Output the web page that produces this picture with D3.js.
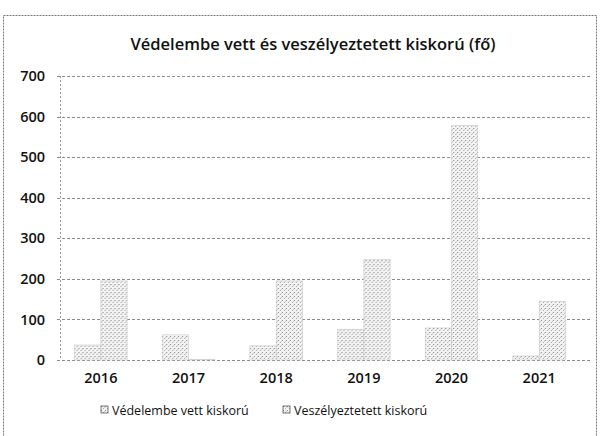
<!DOCTYPE html>
<html>
<head>
<meta charset="utf-8">
<script src="https://cdn.jsdelivr.net/npm/d3@7"></script>
<style>
  body { margin: 0; background: #fff; }
  text { font-family: "Open Sans", "Noto Sans", sans-serif; fill: #111; }
</style>
</head>
<body>
<div id="chart"></div>
<script>
// data
var years = ["2016", "2017", "2018", "2019", "2020", "2021"];
var vedelembe = [37, 62, 35, 76, 79, 10];
var veszelyeztetett = [195, 2, 195, 248, 578, 145];
var seriesNames = ["Védelembe vett kiskorú", "Veszélyeztetett kiskorú"];
var yTicks = [0, 100, 200, 300, 400, 500, 600, 700];

var width = 600;
var height = 436;
var margin = { top: 76, right: 17, bottom: 76, left: 57 };

var svg = d3.select("#chart")
    .append("svg")
    .attr("width", width)
    .attr("height", height);

// dotted texture, like the scanned bars
var defs = svg.append("defs");
var pat = defs.append("pattern")
    .attr("id", "dots")
    .attr("width", 4)
    .attr("height", 4)
    .attr("patternUnits", "userSpaceOnUse");
pat.append("rect").attr("width", 4).attr("height", 4).attr("fill", "#f2f2f2");
pat.append("rect").attr("x", 0).attr("y", 0).attr("width", 1).attr("height", 1).attr("fill", "#8a8a8a");
pat.append("rect").attr("x", 2).attr("y", 2).attr("width", 1).attr("height", 1).attr("fill", "#a8a8a8");
pat.append("rect").attr("x", 3).attr("y", 1).attr("width", 1).attr("height", 1).attr("fill", "#c8c8c8");

// outer frame of the chart
svg.append("rect")
    .attr("x", 3.5)
    .attr("y", 15.5)
    .attr("width", 593)
    .attr("height", 430)
    .attr("fill", "none")
    .attr("stroke", "#777")
    .attr("stroke-dasharray", "2,1");

// title
svg.append("text")
    .attr("x", 313)
    .attr("y", 50)
    .attr("text-anchor", "middle")
    .style("font-size", "16.5px")
    .style("font-weight", "600")
    .text("Védelembe vett és veszélyeztetett kiskorú (fő)");

var y = d3.scaleLinear()
    .domain([0, 700])
    .range([height - margin.bottom, margin.top]);

var x0 = d3.scaleBand()
    .domain(years)
    .range([margin.left, width - margin.right])
    .paddingInner(0.4)
    .paddingOuter(0.2);

var x1 = d3.scaleBand()
    .domain([0, 1])
    .range([0, x0.bandwidth()]);

// gridlines
svg.append("g")
    .selectAll("line")
    .data(yTicks)
    .enter()
    .append("line")
    .attr("x1", margin.left)
    .attr("x2", width - margin.right + 7)
    .attr("y1", function(d) { return Math.round(y(d)) + 0.5; })
    .attr("y2", function(d) { return Math.round(y(d)) + 0.5; })
    .attr("stroke", "#8c8c8c")
    .attr("stroke-dasharray", "3,2");

// left axis line
svg.append("line")
    .attr("x1", margin.left + 3.5)
    .attr("x2", margin.left + 3.5)
    .attr("y1", y(700))
    .attr("y2", y(0))
    .attr("stroke", "#999")
    .attr("stroke-dasharray", "2,2");

// y axis labels
var yAxis = d3.axisLeft(y).tickValues(yTicks).tickSize(0).tickPadding(12);
var gy = svg.append("g")
    .attr("transform", "translate(" + margin.left + ",0)")
    .call(yAxis);
gy.select(".domain").remove();
gy.selectAll("text")
    .style("font-size", "14.5px")
    .style("font-weight", "600")
    .attr("fill", "#111");

// x axis labels
var xAxis = d3.axisBottom(x0).tickSize(0).tickPadding(13);
var gx = svg.append("g")
    .attr("transform", "translate(0," + y(0) + ")")
    .call(xAxis);
gx.select(".domain").remove();
gx.selectAll("text")
    .style("font-size", "14.5px")
    .style("font-weight", "600")
    .attr("fill", "#111");

// bars
var rows = years.map(function(yr, i) {
    return { year: yr, values: [vedelembe[i], veszelyeztetett[i]] };
});

var groups = svg.append("g")
    .selectAll("g")
    .data(rows)
    .enter()
    .append("g")
    .attr("transform", function(d) { return "translate(" + x0(d.year) + ",0)"; });

groups.selectAll("rect")
    .data(function(d) { return d.values; })
    .enter()
    .append("rect")
    .attr("x", function(d, i) { return x1(i); })
    .attr("width", x1.bandwidth())
    .attr("y", function(d) { return y(d); })
    .attr("height", function(d) { return y(0) - y(d); })
    .attr("fill", "url(#dots)")
    .attr("stroke", "#c4c4c4")
    .attr("stroke-width", 0.5);

// legend
var legend = svg.append("g")
    .attr("transform", "translate(0,410)");
var legendX = [101, 283];
seriesNames.forEach(function(name, i) {
    var item = legend.append("g").attr("transform", "translate(" + legendX[i] + ",0)");
    item.append("rect")
        .attr("x", 0)
        .attr("y", -4)
        .attr("width", 7)
        .attr("height", 7)
        .attr("fill", "url(#dots)")
        .attr("stroke", "#555")
        .attr("stroke-width", 0.8);
    item.append("text")
        .attr("x", 11)
        .attr("y", 4.5)
        .style("font-size", "12.5px")
        .text(name);
});
</script>
</body>
</html>
